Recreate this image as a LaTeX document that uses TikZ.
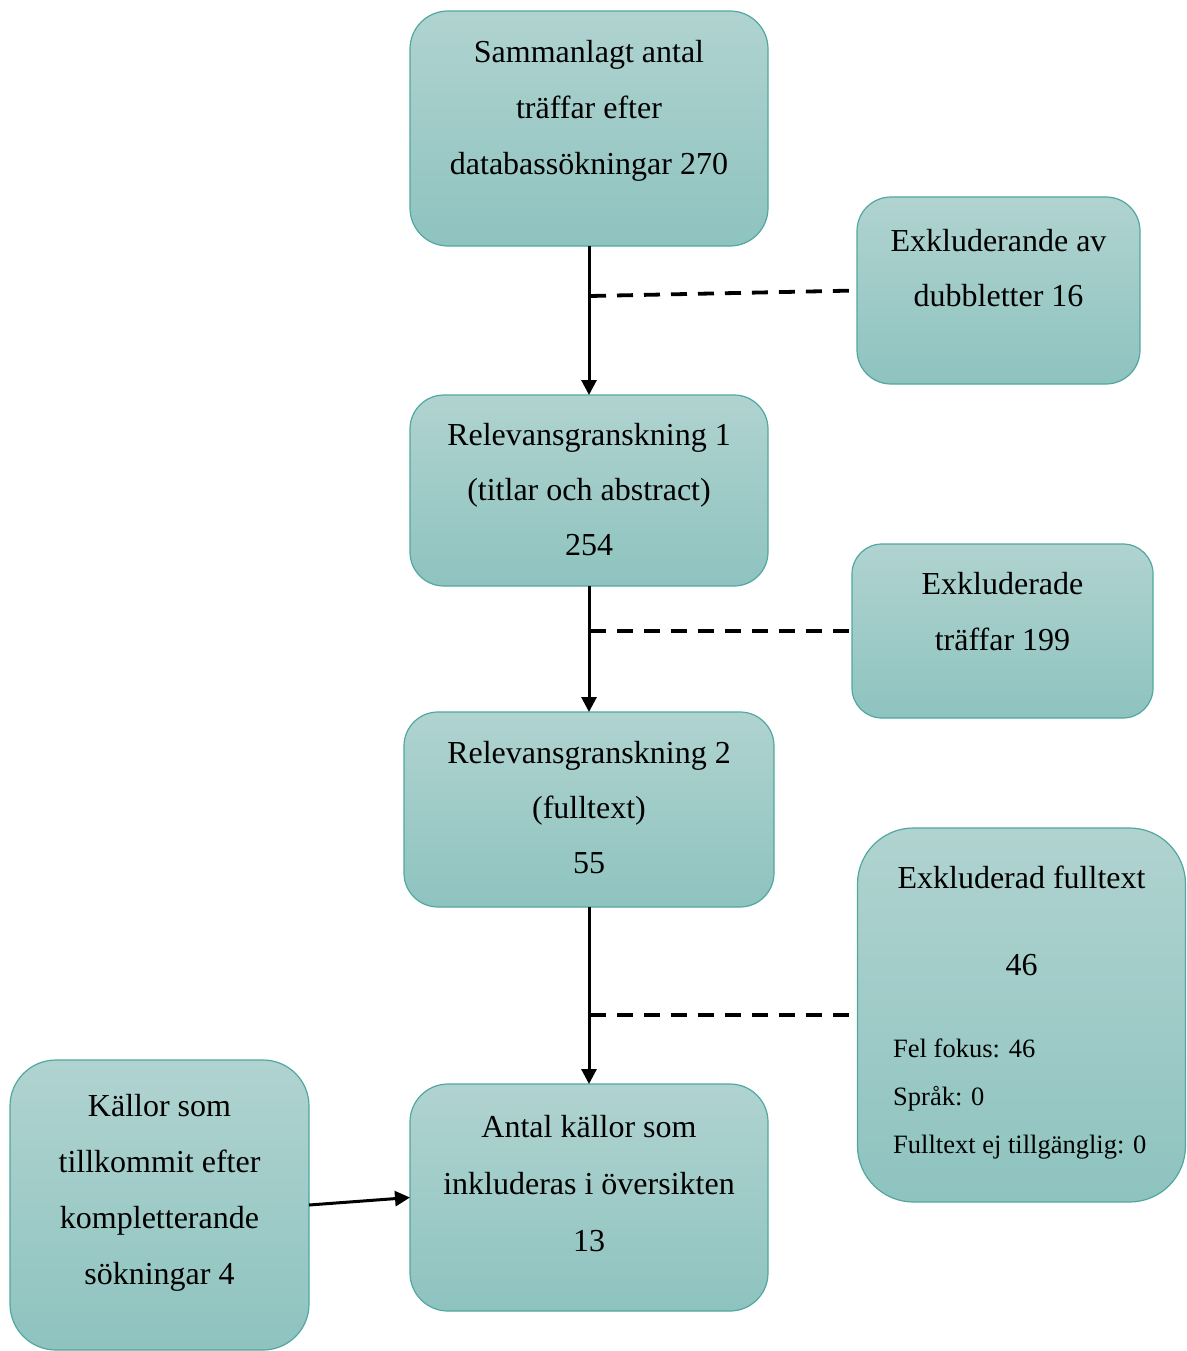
\documentclass[tikz,border=0pt]{standalone}
\usepackage{fontspec}
\setmainfont{Liberation Serif}
\usetikzlibrary{arrows.meta}
\definecolor{ftop}{RGB}{176,211,208}
\definecolor{fbot}{RGB}{142,195,191}
\definecolor{fborder}{RGB}{80,168,160}
\newcommand{\mlc}[1]{\begin{tabular}[t]{@{}c@{}}#1\end{tabular}}
\newcommand{\mll}[1]{\begin{tabular}[t]{@{}l@{}}#1\end{tabular}}
\begin{document}
\begin{tikzpicture}[x=1pt,y=-1pt,
  box/.style={draw=fborder, line width=1.2pt, top color=ftop, bottom color=fbot, shape=rectangle, inner sep=0pt, outer sep=0pt},
  txt/.style={anchor=base, inner sep=0pt, font=\fontsize{32}{56}\selectfont},
  small/.style={anchor=base west, inner sep=0pt, font=\fontsize{26.5}{48}\selectfont},
  arr/.style={line width=3pt, -{Triangle[length=15pt,width=15pt]}},
  dsh/.style={line width=3.8pt, dash pattern=on 16pt off 11pt}]
\useasboundingbox (0,0) rectangle (1186,1351);
% boxes
\node[box, minimum width=358pt, minimum height=235pt, rounded corners=38pt] (A) at (589,128.5) {};
\node[box, minimum width=283pt, minimum height=187pt, rounded corners=34pt] (B) at (998.5,290.5) {};
\node[box, minimum width=358pt, minimum height=191pt, rounded corners=34pt] (C) at (589,490.5) {};
\node[box, minimum width=301pt, minimum height=174pt, rounded corners=30pt] (D) at (1002.5,631) {};
\node[box, minimum width=370pt, minimum height=195pt, rounded corners=34pt] (E) at (589,809.5) {};
\node[box, minimum width=328pt, minimum height=374pt, rounded corners=56pt] (F) at (1021.5,1015) {};
\node[box, minimum width=299pt, minimum height=290pt, rounded corners=46pt] (G) at (159.5,1205) {};
\node[box, minimum width=358pt, minimum height=227pt, rounded corners=38pt] (H) at (589,1197.5) {};
% texts
\node[txt] (tA) at (589,63) {\mlc{Sammanlagt antal\\träffar efter\\databassökningar 270}};
\node[txt, font=\fontsize{32}{55}\selectfont] (tB) at (998.5,251) {\mlc{Exkluderande av\\dubbletter 16}};
\node[txt, font=\fontsize{32}{55}\selectfont] (tC) at (589,445) {\mlc{Relevansgranskning 1\\(titlar och abstract)\\254}};
\node[txt] (tD) at (1002.5,594) {\mlc{Exkluderade\\träffar 199}};
\node[txt, font=\fontsize{32}{55}\selectfont] (tE) at (589,763) {\mlc{Relevansgranskning 2\\(fulltext)\\55}};
\node[txt] (tF) at (1021.5,888) {\mlc{Exkluderad fulltext\\[31pt]46}};
\node[small] (tF2) at (893,1057) {\mll{Fel fokus: 46\\Språk: 0\\Fulltext ej tillgänglig: 0}};
\node[txt, font=\fontsize{32}{56.3}\selectfont] (tG) at (159.5,1116) {\mlc{Källor som\\tillkommit efter\\kompletterande\\sökningar 4}};
\node[txt, font=\fontsize{32}{57}\selectfont] (tH) at (589,1137) {\mlc{Antal källor som\\inkluderas i översikten\\13}};
% connectors
\coordinate (j1) at (590,296);
\coordinate (j2) at (590,631);
\coordinate (j3) at (590,1015);
\draw[arr] (A.south) -- (C.north);
\draw[arr] (C.south) -- (E.north);
\draw[arr] (E.south) -- (H.north);
\draw[dsh] (j1) -- (B.west);
\draw[dsh] (j2) -- (D.west);
\draw[dsh] (j3) -- (F.west);
\draw[arr] (G.east) -- (H.west);
\end{tikzpicture}
\end{document}
